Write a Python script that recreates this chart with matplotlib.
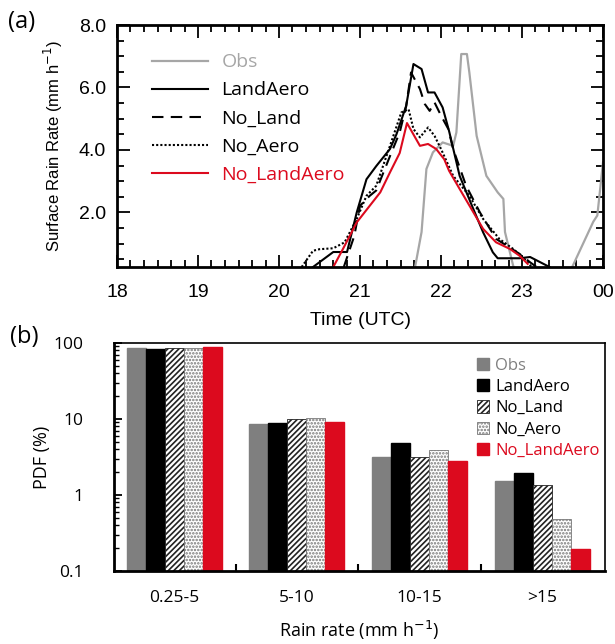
import matplotlib
matplotlib.use('Agg')
import matplotlib.pyplot as plt
from matplotlib.patches import Patch
from matplotlib.ticker import MultipleLocator, FixedLocator, NullFormatter, LogLocator
import numpy as np

# (a) surface rain rate time series (hour UTC, mm/h)
obs_t = [21.68, 21.76, 21.82, 21.90, 22.02, 22.15, 22.19, 22.25, 22.32, 22.35, 22.44,
         22.56, 22.70, 22.77, 22.79, 22.89, 22.93, 23.57, 23.62, 23.88, 23.93, 24.0]
obs_v = [0.25, 1.37, 3.39, 3.92, 4.24, 4.13, 4.56, 7.07, 7.07, 6.48, 4.45,
         3.17, 2.64, 2.43, 1.37, 0.3, 0.0, 0.0, 0.25, 1.7, 1.9, 3.6]

la_t = [20.42, 20.67, 20.84, 20.96, 21.08, 21.20, 21.37, 21.45, 21.57, 21.66, 21.76,
        21.84, 21.92, 22.02, 22.10, 22.23, 22.40, 22.52, 22.64, 22.70, 22.97, 23.10, 23.34]
la_v = [0.25, 0.73, 0.73, 2.0, 3.06, 3.48, 4.03, 4.5, 5.41, 6.75, 6.59,
        5.84, 5.84, 5.36, 4.6, 3.17, 2.1, 1.36, 0.72, 0.53, 0.53, 0.57, 0.25]

nl_t = [20.80, 20.93, 21.00, 21.12, 21.20, 21.37, 21.49, 21.57, 21.63, 21.74, 21.80,
        21.86, 21.92, 22.00, 22.09, 22.15, 22.31, 22.48, 22.68, 22.97, 23.10, 23.18]
nl_v = [0.25, 1.25, 2.21, 2.53, 2.7, 3.8, 4.56, 5.4, 6.48, 5.95, 5.47,
        5.25, 5.52, 5.1, 4.67, 4.03, 2.85, 2.0, 1.15, 0.67, 0.4, 0.25]

na_t = [20.28, 20.42, 20.50, 20.67, 20.81, 20.96, 21.08, 21.20, 21.37, 21.51, 21.60, 21.66,
        21.74, 21.84, 21.92, 22.00, 22.15, 22.35, 22.52, 22.72, 22.89, 23.03, 23.12]
na_v = [0.25, 0.77, 0.82, 0.85, 1.04, 1.79, 2.53, 2.85, 4.13, 5.2, 5.3, 4.67,
        4.4, 4.72, 4.45, 4.03, 3.17, 2.53, 1.79, 1.15, 0.83, 0.51, 0.25]

nla_t = [20.67, 20.79, 20.96, 21.12, 21.25, 21.37, 21.49, 21.58, 21.74, 21.84,
         21.94, 22.04, 22.10, 22.23, 22.40, 22.52, 22.68, 22.85, 22.97, 23.07]
nla_v = [0.25, 0.83, 1.68, 2.21, 2.64, 3.28, 3.9, 4.86, 4.13, 4.19,
         4.03, 3.7, 3.33, 2.75, 2.0, 1.47, 1.04, 0.83, 0.61, 0.35]

hour_labels = ['18', '19', '20', '21', '22', '23', '00']

# (b) PDF of rain rate (%)
bins = ['0.25-5', '5-10', '10-15', '>15']
pdf_obs = [87, 8.7, 3.18, 1.55]
pdf_landaero = [84, 8.9, 4.85, 1.94]
pdf_noland = [86, 10.0, 3.12, 1.35]
pdf_noaero = [86, 10.3, 3.95, 0.48]
pdf_nolandaero = [89, 9.0, 2.78, 0.195]

RED = '#dc0a1e'
GRAY_LINE = '#a6a6a6'
GRAY_BAR = '#7f7f7f'
AX_FONT = 'Liberation Sans'
XL_FONT = 'Open Sans'

fig = plt.figure(figsize=(6.15, 6.44), dpi=100)

# ---------- panel (a)
ax = fig.add_axes([117 / 615, 1 - 267 / 644, 486 / 615, 242 / 644])
ax.plot(obs_t, obs_v, color=GRAY_LINE, lw=1.6, label='Obs')
ax.plot(la_t, la_v, color='black', lw=1.5, label='LandAero')
ax.plot(nl_t, nl_v, color='black', lw=1.5, dashes=(5.5, 3.5), label='No_Land')
ax.plot(na_t, na_v, color='black', lw=1.5, dashes=(1.0, 1.0), label='No_Aero')
ax.plot(nla_t, nla_v, color=RED, lw=1.5, label='No_LandAero')

ax.set_xlim(18, 24)
ax.set_ylim(0.25, 8)
ax.set_xticks(np.arange(18, 25))
ax.set_xticklabels(hour_labels, family=AX_FONT, fontsize=14)
ax.xaxis.set_minor_locator(MultipleLocator(1 / 6))
ax.set_yticks([2, 4, 6, 8])
ax.set_yticklabels(['2.0', '4.0', '6.0', '8.0'], family=AX_FONT, fontsize=14)
ax.yaxis.set_minor_locator(MultipleLocator(0.5))
ax.tick_params(which='both', direction='in', top=True, right=True, width=1.3)
ax.tick_params(which='major', length=9)
ax.tick_params(axis='x', which='major', pad=12)
ax.tick_params(axis='y', which='major', pad=8)
ax.tick_params(which='minor', length=5)
for s in ax.spines.values():
    s.set_linewidth(2)
ax.set_xlabel('Time (UTC)', family=AX_FONT, fontsize=14, labelpad=8)
ax.set_ylabel('Surface Rain Rate (mm h$^{-1}$)', family=AX_FONT, fontsize=12, labelpad=10)

leg = ax.legend(loc='upper left', bbox_to_anchor=(0.055, 0.915), frameon=False,
                prop={'family': XL_FONT, 'size': 14}, handlelength=2.9,
                handletextpad=0.7, labelspacing=0.52, borderaxespad=0)
for txt, c in zip(leg.get_texts(), [GRAY_LINE, 'black', 'black', 'black', RED]):
    txt.set_color(c)
fig.text(8 / 615, 1 - 22 / 644, '(a)', family=XL_FONT, fontsize=17, va='center')

# ---------- panel (b)
bx = fig.add_axes([114 / 615, 1 - 571 / 644, 491 / 615, 228 / 644])
x = np.arange(len(bins))
w = 0.155
plt.rcParams['hatch.linewidth'] = 1.2
series = [
    ('Obs', pdf_obs, dict(color=GRAY_BAR, edgecolor=GRAY_BAR)),
    ('LandAero', pdf_landaero, dict(color='black', edgecolor='black')),
    ('No_Land', pdf_noland, dict(facecolor='white', edgecolor='#222222', hatch='//////', linewidth=0.6)),
    ('No_Aero', pdf_noaero, dict(facecolor='white', edgecolor='#777777', hatch='.....', linewidth=0.6)),
    ('No_LandAero', pdf_nolandaero, dict(color=RED, edgecolor=RED)),
]
handles = []
for i, (name, vals, kw) in enumerate(series):
    bx.bar(x + (i - 2) * w, vals, width=w, **kw)
    handles.append(Patch(label=name, **kw))

bx.set_yscale('log')
bx.set_ylim(0.1, 100)
bx.set_xlim(-0.49, 3.51)
bx.set_yticks([0.1, 1, 10, 100])
bx.set_yticklabels(['0.1', '1', '10', '100'], family=XL_FONT, fontsize=12.5)
bx.yaxis.set_minor_locator(LogLocator(base=10, subs=np.arange(2, 10)))
bx.yaxis.set_minor_formatter(NullFormatter())
bx.set_xticks(x)
bx.set_xticklabels(bins, family=XL_FONT, fontsize=12.5)
bx.xaxis.set_minor_locator(FixedLocator([0.5, 1.5, 2.5]))
bx.tick_params(axis='x', which='major', length=0, pad=14)
bx.tick_params(axis='x', which='minor', direction='in', length=5, width=1.5)
bx.tick_params(axis='y', which='major', direction='in', length=6, width=1.3, pad=22)
bx.tick_params(axis='y', which='minor', direction='in', length=3.5, width=1)
for s in bx.spines.values():
    s.set_linewidth(1.2)
bx.spines['bottom'].set_linewidth(2)
bx.spines['left'].set_linewidth(2)
bx.set_xlabel('Rain rate (mm h$^{-1}$)', family=XL_FONT, fontsize=13, labelpad=9)
bx.set_ylabel('PDF (%)', family=XL_FONT, fontsize=13, labelpad=2)

leg2 = bx.legend(handles=handles, loc='upper left', bbox_to_anchor=(0.725, 0.965), frameon=False,
                 prop={'family': XL_FONT, 'size': 12}, handlelength=0.75, handleheight=0.75,
                 handletextpad=0.35, labelspacing=0.32, borderaxespad=0)
for txt, c in zip(leg2.get_texts(), [GRAY_BAR, 'black', 'black', 'black', RED]):
    txt.set_color(c)
fig.text(10 / 615, 1 - 337 / 644, '(b)', family=XL_FONT, fontsize=17, va='center')

fig.savefig('out.png', dpi=100)
